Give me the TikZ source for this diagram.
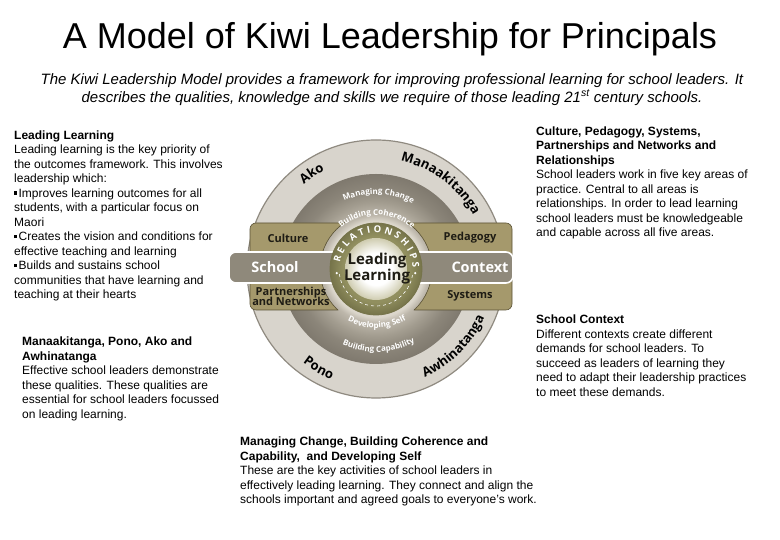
\documentclass[tikz,border=0pt]{standalone}
\usepackage{fontspec}
\setmainfont{Liberation Sans}
\newfontfamily\diagfont{Open Sans}
\usetikzlibrary{decorations.text}

\definecolor{outerfill}{HTML}{D8D4CC}
\definecolor{outerrim}{HTML}{8F8A80}
\definecolor{ringA}{HTML}{DCD7CC}
\definecolor{ringB}{HTML}{BDB7AB}
\definecolor{ringC}{HTML}{A39D90}
\definecolor{ringD}{HTML}{8C867A}
\definecolor{ringE}{HTML}{7F796E}
\definecolor{tanfill}{HTML}{A5996C}
\definecolor{tanline}{HTML}{5A5235}
\definecolor{bandfill}{HTML}{8F897B}
\definecolor{oliveL}{HTML}{918F5F}
\definecolor{oliveD}{HTML}{76744A}
\definecolor{innerEdge}{HTML}{CFCCB0}
\definecolor{darktext}{HTML}{1E1C14}

\pgfdeclareradialshading{ringshade}{\pgfpoint{0bp}{0bp}}{color(0bp)=(ringA); color(12.6bp)=(ringA); color(14.2bp)=(ringB); color(17.5bp)=(ringC); color(21bp)=(ringD); color(25bp)=(ringE); color(50bp)=(ringE)}
\pgfdeclareradialshading{oliveshade}{\pgfpoint{0bp}{0bp}}{color(0bp)=(oliveL); color(18bp)=(oliveL); color(25bp)=(oliveD); color(50bp)=(oliveD)}
\pgfdeclareradialshading{innershade}{\pgfpoint{0bp}{0bp}}{color(0bp)=(white); color(13bp)=(white); color(25bp)=(innerEdge); color(50bp)=(innerEdge)}

\newcommand\sqbul{\raisebox{2.6pt}{\rule{3.2pt}{3.2pt}}\hspace{1.2pt}}
\newcommand\outerlblfont{\diagfont\bfseries\fontsize{13}{13}\selectfont}
\newcommand\ringlblfont{\diagfont\bfseries\fontsize{8}{8}\selectfont}

\tikzset{
  body/.style={anchor=north west, inner sep=0pt, align=left, font=\fontsize{12}{14.5}\selectfont, text=black},
  boxlbl/.style={font=\diagfont\bfseries\fontsize{11}{12}\selectfont, text=darktext, align=center, inner sep=0pt},
  bandlbl/.style={font=\diagfont\bfseries\fontsize{14.5}{15}\selectfont, text=white, inner sep=0pt},
  tanbox/.style={fill=tanfill, draw=tanline, line width=0.6pt, rounded corners=6pt},
  bandbox/.style={fill=bandfill, draw=white, line width=1.6pt, rounded corners=7pt},
}

\begin{document}
\begin{tikzpicture}[x=1pt, y=1pt]
\useasboundingbox (0,0) rectangle (780,540);
\fill[white] (0,0) rectangle (780,540);

% titles
\node[font=\fontsize{36}{40}\selectfont, anchor=base, inner sep=0pt] (title) at (390,491) {A Model of Kiwi Leadership for Principals};
\node[font=\itshape\fontsize{15}{18}\selectfont, align=center, anchor=north, inner sep=0pt] (sub) at (392,467)
 {The Kiwi Leadership Model provides a framework for improving professional learning for school leaders. It\\
  describes the qualities, knowledge and skills we require of those leading 21\textsuperscript{st} century schools.};

% diagram
\coordinate (C) at (376,271);
\fill[outerfill] (C) circle (129pt);
\draw[outerrim, line width=1.2pt] (C) circle (129pt);
\shade[shading=ringshade] (C) circle (95pt);

\begin{scope}
  \clip (0,0) -- (0,540) -- (780,540) -- (780,0) -- cycle (C) circle (56pt);
  \draw[tanbox] (250,230) rectangle (376,317);
  \draw[tanbox] (376,230) rectangle (512,317);
\end{scope}
\begin{scope}
  \clip (250,230) rectangle (512,317);
  \draw[tanline, line width=0.6pt] (C) circle (56pt);
\end{scope}

\draw[bandbox] (229,257) rectangle (513,288);

\shade[shading=oliveshade] (C) circle (46pt);
\draw[oliveD, line width=0.8pt] (C) circle (46pt);
\shade[shading=innershade] (C) circle (31pt);
\draw[white, dashed, line width=0.6pt] ([shift={(188:37pt)}]C) arc[start angle=188, end angle=352, radius=37pt];
\fill[white] ([shift={(186:39.5pt)}]C) circle (1.2pt);
\fill[white] ([shift={(354:39.5pt)}]C) circle (1.2pt);

% outer ring labels
\path[decorate, decoration={text along path, text align=center, text={|\outerlblfont|Manaakitanga}}]
  ([shift={(100:111pt)}]C) arc[start angle=100, end angle=6, radius=111pt];
\path[decorate, decoration={text along path, text align=center, text={|\outerlblfont|Ako}}]
  ([shift={(150:111pt)}]C) arc[start angle=150, end angle=98, radius=111pt];
\path[decorate, decoration={text along path, text align=center, text={|\outerlblfont|Pono}}]
  ([shift={(212:119pt)}]C) arc[start angle=212, end angle=268, radius=119pt];
\path[decorate, decoration={text along path, text align=center, text={|\outerlblfont|Awhinatanga}}]
  ([shift={(270:119pt)}]C) arc[start angle=270, end angle=360, radius=119pt];

% inner ring labels
\path[decorate, decoration={text along path, text align=center, text color=white, text={|\ringlblfont|Managing Change}}]
  ([shift={(140:75pt)}]C) arc[start angle=140, end angle=36, radius=75pt];
\path[decorate, decoration={text along path, text align=center, text color=white, text={|\ringlblfont|Building Coherence}}]
  ([shift={(150:54pt)}]C) arc[start angle=150, end angle=28, radius=54pt];
\path[decorate, decoration={text along path, text align=center, text color=white, text={|\ringlblfont|Developing Self}}]
  ([shift={(215:59pt)}]C) arc[start angle=215, end angle=327, radius=59pt];
\path[decorate, decoration={text along path, text align=center, text color=white, text={|\ringlblfont|Building Capability}}]
  ([shift={(222:83pt)}]C) arc[start angle=222, end angle=322, radius=83pt];
\path[decorate, decoration={text along path, text align=fit to path, text color=white, text={|\diagfont\bfseries\fontsize{9.5}{9.5}\selectfont|RELATIONSHIPS}}]
  ([shift={(170:36.5pt)}]C) arc[start angle=170, end angle=2, radius=36.5pt];

% box and band labels
\node[boxlbl] (culture) at (288,302) {Culture};
\node[boxlbl] (partner) at (291,244) {Partnerships\\[-2pt]and Networks};
\node[boxlbl] (pedagogy) at (470,302) {Pedagogy};
\node[boxlbl] (systems) at (470,244) {Systems};
\node[bandlbl] (school) at (275,272.5) {School};
\node[bandlbl] (context) at (480,272.5) {Context};
\node[font=\diagfont\bfseries\fontsize{15}{16}\selectfont, text=darktext, align=center, inner sep=0pt] (lead) at (377,271) {Leading\\Learning};

% text blocks
\node[body] (leadtxt) at (14,409.6) {\textbf{Leading Learning}\\
Leading learning is the key priority of\\
the outcomes framework. This involves\\
leadership which:\\
\sqbul Improves learning outcomes for all\\
students, with a particular focus on\\
Maori\\
\sqbul Creates the vision and conditions for\\
effective teaching and learning\\
\sqbul Builds and sustains school\\
communities that have learning and\\
teaching at their hearts};

\node[body] (areatxt) at (536,413.5) {\textbf{Culture, Pedagogy, Systems,}\\
\textbf{Partnerships and Networks and}\\
\textbf{Relationships}\\
School leaders work in five key areas of\\
practice. Central to all areas is\\
relationships. In order to lead learning\\
school leaders must be knowledgeable\\
and capable across all five areas.};

\node[body] (qualtxt) at (22,203) {\textbf{Manaakitanga, Pono, Ako and}\\
\textbf{Awhinatanga}\\
Effective school leaders demonstrate\\
these qualities. These qualities are\\
essential for school leaders focussed\\
on leading learning.};

\node[body] (ctxtxt) at (536,225) {\textbf{School Context}\\
Different contexts create different\\
demands for school leaders. To\\
succeed as leaders of learning they\\
need to adapt their leadership practices\\
to meet these demands.};

\node[body] (acttxt) at (240,103) {\textbf{Managing Change, Building Coherence and}\\
\textbf{Capability,\ \ and Developing Self}\\
These are the key activities of school leaders in\\
effectively leading learning. They connect and align the\\
schools important and agreed goals to everyone's work.};
\end{tikzpicture}
\end{document}
